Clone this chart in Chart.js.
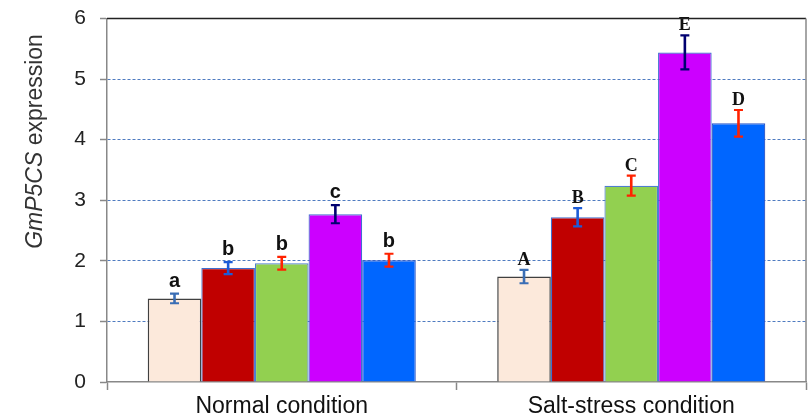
<!DOCTYPE html>
<html>
<head>
<meta charset="utf-8">
<script src="https://cdn.jsdelivr.net/npm/chart.js@4/dist/chart.umd.min.js"></script>
<style>
  html, body { margin: 0; padding: 0; background: #ffffff; }
  #wrap { width: 809px; height: 420px; }
</style>
</head>
<body>
<div id="wrap"><canvas id="c" width="809" height="420"></canvas></div>
<script>
// ---- data ----
const categories = ['Normal condition', 'Salt-stress condition'];
const seriesNames = ['Series 1', 'Series 2', 'Series 3', 'Series 4', 'Series 5'];
const series1 = [1.38, 1.74];
const series2 = [1.88, 2.72];
const series3 = [1.96, 3.24];
const series4 = [2.77, 5.44];
const series5 = [2.01, 4.27];
const error1 = [0.08, 0.11];
const error2 = [0.10, 0.15];
const error3 = [0.105, 0.165];
const error4 = [0.15, 0.28];
const error5 = [0.107, 0.22];
const letters1 = ['a', 'A'];
const letters2 = ['b', 'B'];
const letters3 = ['b', 'C'];
const letters4 = ['c', 'E'];
const letters5 = ['b', 'D'];
const yTicks = [0, 1, 2, 3, 4, 5, 6];

// ---- styles ----
const fills = ['#FCE9DB', '#C00000', '#92D050', '#CC00FF', '#0066FF'];
const borders = ['#404040', '#3F6FD0', '#4F7ED0', '#3F6FD0', '#2A55C8'];
const borderWidths = [1.5, 1.2, 1.2, 1.2, 1.2];
const errColors = ['#3A6EB5', '#1C5CD8', '#FF2200', '#000070', '#FF2200'];

const allValues = [series1, series2, series3, series4, series5];
const allErrors = [error1, error2, error3, error4, error5];
const allLetters = [letters1, letters2, letters3, letters4, letters5];

const datasets = allValues.map((vals, i) => ({
  label: seriesNames[i],
  data: vals,
  backgroundColor: fills[i],
  borderColor: borders[i],
  borderWidth: borderWidths[i],
  borderSkipped: 'bottom',
  barPercentage: 1.0,
  categoryPercentage: 0.767,
  errors: allErrors[i],
  letters: allLetters[i],
  errColor: errColors[i]
}));

const errorPlugin = {
  id: 'errorBars',
  afterDatasetsDraw(chart) {
    const ctx = chart.ctx;
    const y = chart.scales.y;
    chart.data.datasets.forEach((ds, i) => {
      const meta = chart.getDatasetMeta(i);
      meta.data.forEach((el, j) => {
        const v = ds.data[j], e = ds.errors[j];
        const x = el.x;
        const yt = y.getPixelForValue(v + e);
        const yb = y.getPixelForValue(v - e);
        ctx.save();
        ctx.strokeStyle = ds.errColor;
        ctx.lineWidth = 2.6;
        ctx.beginPath();
        ctx.moveTo(x, yt); ctx.lineTo(x, yb);
        ctx.stroke();
        ctx.lineWidth = 2.2;
        ctx.beginPath();
        ctx.moveTo(x - 4.5, yt); ctx.lineTo(x + 4.5, yt);
        ctx.moveTo(x - 4.5, yb); ctx.lineTo(x + 4.5, yb);
        ctx.stroke();
        // letter
        ctx.fillStyle = '#111111';
        ctx.textAlign = 'center';
        ctx.textBaseline = 'alphabetic';
        if (j === 0) {
          ctx.font = 'bold 20px "Liberation Sans", Arial, sans-serif';
          ctx.fillText(ds.letters[j], x, yt - 7);
        } else {
          ctx.font = 'bold 18px "Liberation Serif", "Times New Roman", serif';
          ctx.fillText(ds.letters[j], x, yt - 5);
        }
        ctx.restore();
      });
    });
  }
};

const framePlugin = {
  id: 'frame',
  afterDraw(chart) {
    const a = chart.chartArea;
    const ctx = chart.ctx;
    ctx.save();
    ctx.strokeStyle = '#222222';
    ctx.lineWidth = 1.5;
    ctx.beginPath();
    ctx.moveTo(a.left, a.top); ctx.lineTo(a.right, a.top);
    ctx.stroke();
    ctx.strokeStyle = '#888888';
    ctx.lineWidth = 1.5;
    ctx.beginPath();
    ctx.moveTo(a.right, a.top); ctx.lineTo(a.right, a.bottom);
    ctx.stroke();
    // y axis title with mixed italic
    ctx.translate(42, a.top + 123);
    ctx.rotate(-Math.PI / 2);
    ctx.fillStyle = '#333333';
    ctx.textBaseline = 'alphabetic';
    const fItal = 'italic 23px "Liberation Sans", Arial, sans-serif';
    const fNorm = '23px "Liberation Sans", Arial, sans-serif';
    const t1 = 'GmP5CS', t2 = ' expression';
    ctx.font = fItal; const w1 = ctx.measureText(t1).width;
    ctx.font = fNorm; const w2 = ctx.measureText(t2).width;
    const start = -(w1 + w2) / 2;
    ctx.textAlign = 'left';
    ctx.font = fItal; ctx.fillText(t1, start, 0);
    ctx.font = fNorm; ctx.fillText(t2, start + w1, 0);
    ctx.restore();
  }
};

new Chart(document.getElementById('c'), {
  type: 'bar',
  data: { labels: categories, datasets: datasets },
  options: {
    responsive: false,
    animation: false,
    devicePixelRatio: 1,
    layout: { autoPadding: false, padding: { left: 0, right: 3, top: 18.5, bottom: 0 } },
    plugins: { legend: { display: false }, tooltip: { enabled: false } },
    scales: {
      x: {
        afterFit(s) { s.height = 38; s.paddingLeft = 0; s.paddingRight = 0; },
        grid: { display: true, drawOnChartArea: false, offset: true, tickLength: 8, tickColor: '#888888', tickWidth: 1.5 },
        border: { display: true, color: '#888888', width: 1.5 },
        ticks: { color: '#111111', padding: 3, font: { family: '"Liberation Sans", Arial, sans-serif', size: 23 } }
      },
      y: {
        min: 0, max: 6,
        afterFit(s) { s.width = 107; s.paddingTop = 0; s.paddingBottom = 0; },
        afterBuildTicks(s) { s.ticks = yTicks.map(v => ({ value: v })); },
        grid: {
          color: (c) => (c.tick && c.tick.value > 0 && c.tick.value < 6) ? '#4F7BC0' : 'rgba(0,0,0,0)',
          lineWidth: 1,
          tickLength: 7,
          tickColor: '#888888',
          tickWidth: 1.5,
          tickBorderDash: []
        },
        border: { display: true, color: '#888888', width: 1.5, dash: [3, 2] },
        ticks: { color: '#222222', padding: 14, font: { family: '"Liberation Sans", Arial, sans-serif', size: 21 } }
      }
    }
  },
  plugins: [errorPlugin, framePlugin]
});
</script>
</body>
</html>
